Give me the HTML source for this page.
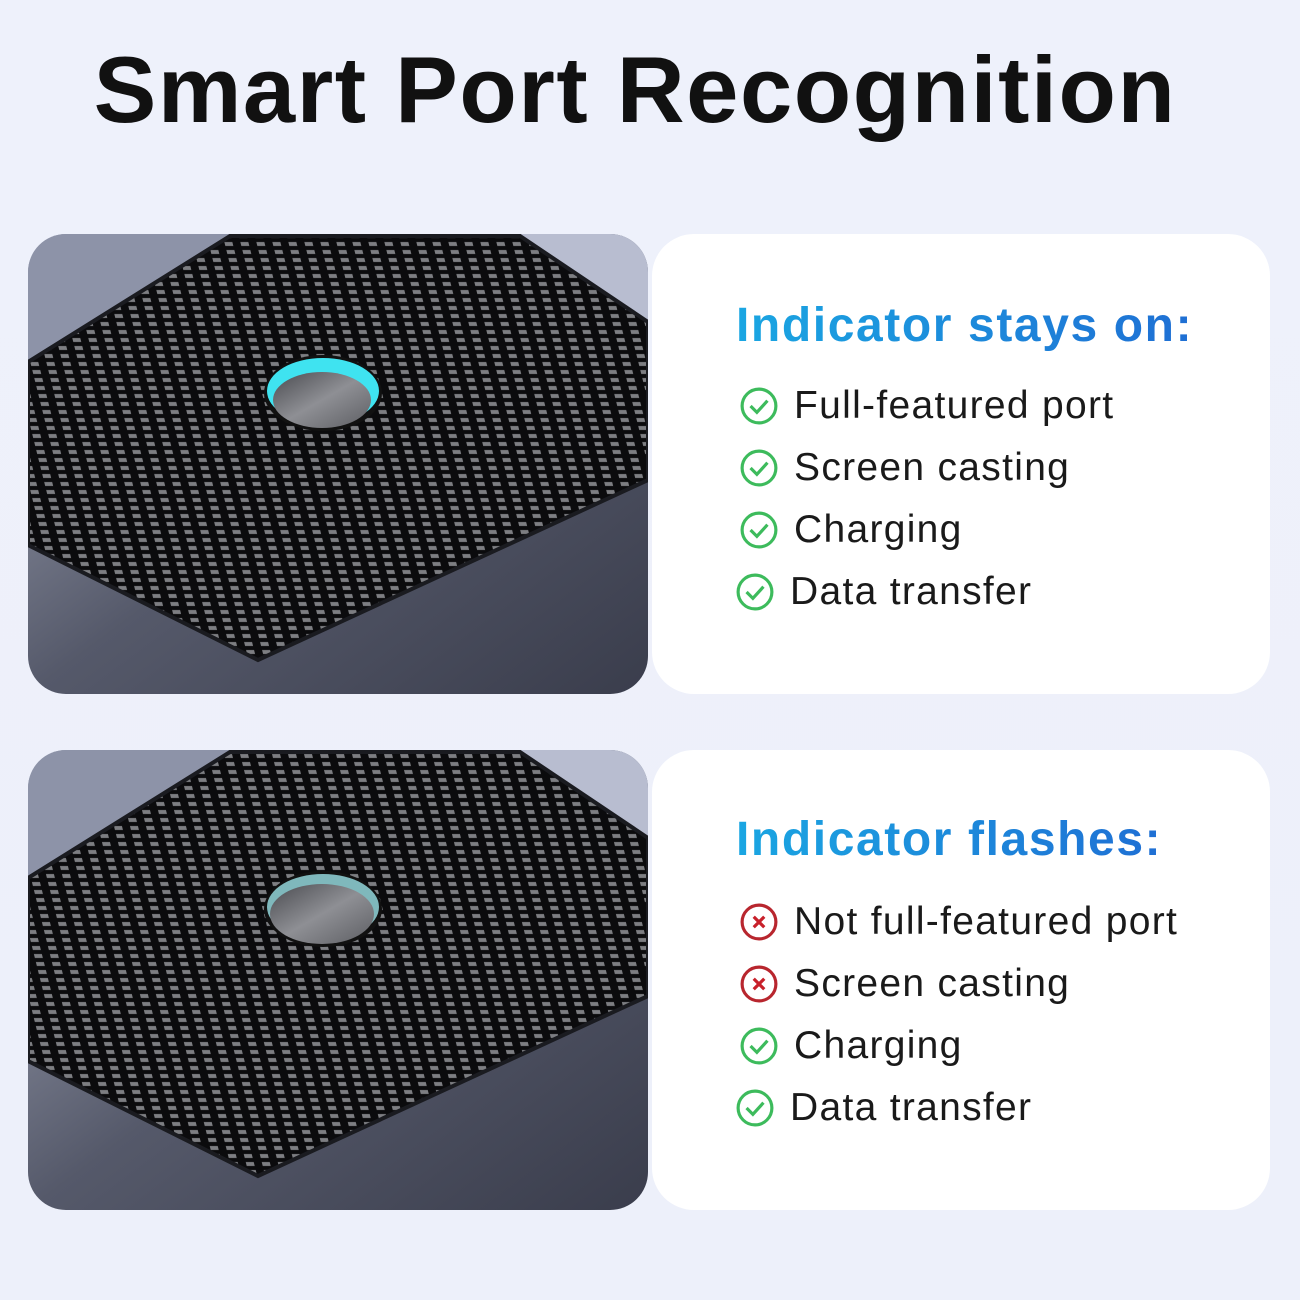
<!DOCTYPE html>
<html><head><meta charset="utf-8"><style>
html,body{margin:0;padding:0}
body{width:1300px;height:1300px;background:linear-gradient(180deg,#eef1fb,#edf0fa);position:relative;overflow:hidden;font-family:"Liberation Sans",sans-serif}
h1{position:absolute;left:0;width:1270px;top:36px;margin:0;text-align:center;font-size:94px;font-weight:bold;color:#111;letter-spacing:1.5px;padding-left:0}
.card{position:absolute;left:652px;width:618px;height:460px;background:#fff;border-radius:42px}
.h{position:absolute;left:84px;font-size:48px;font-weight:bold;letter-spacing:1.6px;background:linear-gradient(90deg,#1aa6e2,#1f6fd4);-webkit-background-clip:text;background-clip:text;color:transparent}
.it{position:absolute;left:88px;font-size:39px;letter-spacing:1.3px;color:#1a1a1a;display:flex;align-items:center;white-space:nowrap}
.ic{width:38px;height:38px;margin-right:16px;flex:none}
</style></head><body>
<h1>Smart Port Recognition</h1>

<svg width="1300" height="1300" style="position:absolute;left:0;top:0">
<defs>
<pattern id="cf" width="16" height="8" patternUnits="userSpaceOnUse" patternTransform="skewX(14)">
<rect width="16" height="8" fill="#0b0b0d"/>
<rect x="4" y="2" width="8" height="4" fill="#7d7e82"/>
</pattern>
<linearGradient id="bg" x1="0" y1="0" x2="1" y2="1">
<stop offset="0" stop-color="#a8adbd"/><stop offset="0.5" stop-color="#55596a"/><stop offset="1" stop-color="#3a3d4c"/>
</linearGradient>
<linearGradient id="lens" x1="0" y1="0" x2="1" y2="1">
<stop offset="0" stop-color="#4a4b50"/><stop offset="0.5" stop-color="#8e8f94"/><stop offset="1" stop-color="#5d5e63"/>
</linearGradient>
<clipPath id="c1"><rect x="28" y="234" width="620" height="460" rx="38"/></clipPath>
<clipPath id="c2"><rect x="28" y="750" width="620" height="460" rx="38"/></clipPath>
</defs>
<g clip-path="url(#c1)">
<rect x="28" y="234" width="620" height="460" fill="url(#bg)"/>
<polygon points="28,234 230,234 28,360" fill="#8d93a8"/>
<polygon points="520,234 648,234 648,325" fill="#b8bdd0"/>
<polygon points="230,236 520,236 648,322 648,480 258,660 28,545 28,362" fill="url(#cf)" stroke="#1a1b20" stroke-width="4"/>
<ellipse cx="323" cy="393" rx="59" ry="38" fill="#111"/>
<ellipse cx="323" cy="391" rx="56" ry="33" fill="#3fe3f0"/>
<ellipse cx="322" cy="400" rx="49" ry="28" fill="url(#lens)"/>
</g>
<g clip-path="url(#c2)">
<rect x="28" y="750" width="620" height="460" fill="url(#bg)"/>
<polygon points="28,750 230,750 28,876" fill="#8d93a8"/>
<polygon points="520,750 648,750 648,841" fill="#b8bdd0"/>
<polygon points="230,752 520,752 648,838 648,996 258,1176 28,1061 28,878" fill="url(#cf)" stroke="#1a1b20" stroke-width="4"/>
<ellipse cx="323" cy="909" rx="59" ry="38" fill="#111"/>
<ellipse cx="323" cy="907" rx="56" ry="33" fill="#7fb8bc"/>
<ellipse cx="322" cy="914" rx="52" ry="30" fill="url(#lens)"/>
</g>
</svg>

<div class="card" style="top:234px">
<div class="h" style="top:64px">Indicator stays on:</div>
<div class="it" style="top:150px"><svg class="ic" viewBox="0 0 36 36"><circle cx="18" cy="18" r="16" fill="none" stroke="#3dbb5c" stroke-width="3"/><path d="M10 18l6 6 10-11" fill="none" stroke="#3dbb5c" stroke-width="3"/></svg>Full-featured port</div>
<div class="it" style="top:212px"><svg class="ic" viewBox="0 0 36 36"><circle cx="18" cy="18" r="16" fill="none" stroke="#3dbb5c" stroke-width="3"/><path d="M10 18l6 6 10-11" fill="none" stroke="#3dbb5c" stroke-width="3"/></svg>Screen casting</div>
<div class="it" style="top:274px"><svg class="ic" viewBox="0 0 36 36"><circle cx="18" cy="18" r="16" fill="none" stroke="#3dbb5c" stroke-width="3"/><path d="M10 18l6 6 10-11" fill="none" stroke="#3dbb5c" stroke-width="3"/></svg>Charging</div>
<div class="it" style="top:336px;left:84px"><svg class="ic" viewBox="0 0 36 36"><circle cx="18" cy="18" r="16" fill="none" stroke="#3dbb5c" stroke-width="3"/><path d="M10 18l6 6 10-11" fill="none" stroke="#3dbb5c" stroke-width="3"/></svg>Data transfer</div>
</div>

<div class="card" style="top:750px">
<div class="h" style="top:62px">Indicator flashes:</div>
<div class="it" style="top:150px"><svg class="ic" viewBox="0 0 36 36"><circle cx="18" cy="18" r="16" fill="none" stroke="#b8262e" stroke-width="3"/><path d="M13 13l10 10M23 13l-10 10" stroke="#c8202a" stroke-width="3"/></svg>Not full-featured port</div>
<div class="it" style="top:212px"><svg class="ic" viewBox="0 0 36 36"><circle cx="18" cy="18" r="16" fill="none" stroke="#b8262e" stroke-width="3"/><path d="M13 13l10 10M23 13l-10 10" stroke="#c8202a" stroke-width="3"/></svg>Screen casting</div>
<div class="it" style="top:274px"><svg class="ic" viewBox="0 0 36 36"><circle cx="18" cy="18" r="16" fill="none" stroke="#3dbb5c" stroke-width="3"/><path d="M10 18l6 6 10-11" fill="none" stroke="#3dbb5c" stroke-width="3"/></svg>Charging</div>
<div class="it" style="top:336px;left:84px"><svg class="ic" viewBox="0 0 36 36"><circle cx="18" cy="18" r="16" fill="none" stroke="#3dbb5c" stroke-width="3"/><path d="M10 18l6 6 10-11" fill="none" stroke="#3dbb5c" stroke-width="3"/></svg>Data transfer</div>
</div>
</body></html>
